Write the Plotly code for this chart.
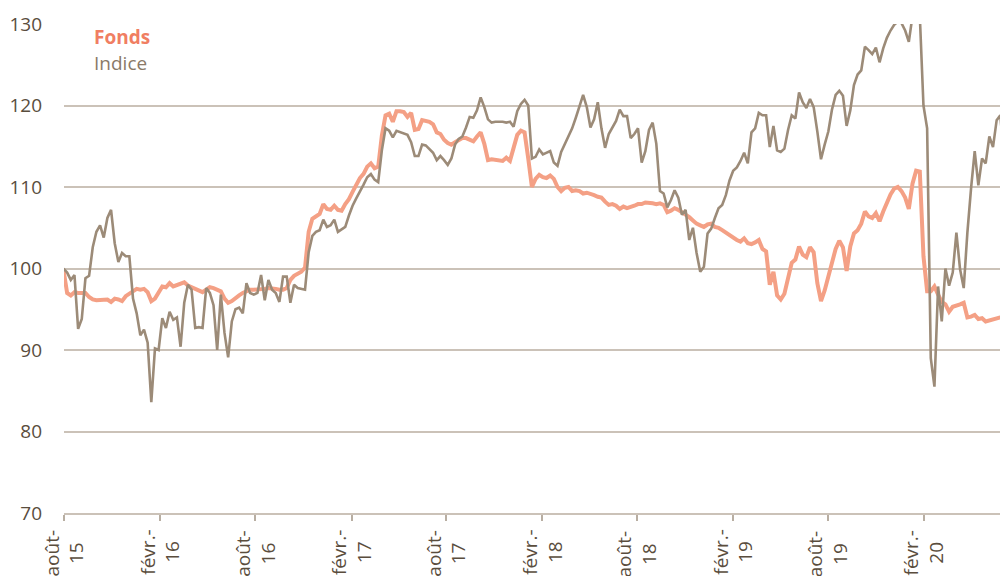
import pandas as pd
import plotly.graph_objects as go

start = "2015-07-31"  # first weekly observation

fonds = [
    99.8, 97.0, 96.7, 97.1, 97.0, 97.0, 97.0, 96.5, 96.2, 96.1,
    96.1, 96.2, 96.2, 95.9, 96.3, 96.2, 96.0, 96.6, 96.9, 97.1,
    97.5, 97.4, 97.5, 97.1, 96.0, 96.3, 97.0, 97.8, 97.7, 98.2,
    97.8, 98.0, 98.2, 98.3, 97.9, 97.7, 97.6, 97.4, 97.1, 97.4,
    97.7, 97.6, 97.4, 97.2, 96.3, 95.8, 96.0, 96.4, 96.7, 97.0,
    97.2, 97.4, 97.4, 97.4, 97.4, 97.5, 97.6, 97.6, 97.5, 97.4,
    97.4, 97.6, 98.6, 99.1, 99.3, 99.6, 100.1, 104.5, 106.1, 106.4,
    106.7, 107.9, 107.3, 107.2, 107.7, 107.2, 107.1, 107.9, 108.5, 109.4,
    110.4, 111.1, 111.6, 112.5, 112.9, 112.3, 112.5, 116.3, 118.8, 119.0,
    118.0, 119.3, 119.3, 119.2, 118.6, 119.1, 117.0, 117.1, 118.2, 118.1,
    118.0, 117.7, 116.7, 116.5, 115.8, 115.4, 115.2, 115.5, 115.8, 116.0,
    116.0, 115.8, 115.6, 116.2, 116.7, 115.3, 113.3, 113.4, 113.3, 113.3,
    113.2, 113.6, 113.2, 114.8, 116.4, 116.9, 116.7, 113.5, 110.0, 111.0,
    111.5, 111.2, 111.1, 111.4, 111.0, 110.0, 109.5, 109.9, 110.0, 109.5,
    109.6, 109.5, 109.2, 109.3, 109.2, 109.0, 108.8, 108.7, 108.2, 107.8,
    107.9, 107.7, 107.3, 107.6, 107.4, 107.5, 107.7, 107.9, 107.9, 108.1,
    108.1, 108.0, 107.9, 108.0, 107.8, 106.9, 107.1, 107.4, 107.2, 106.9,
    106.7, 106.3, 105.9, 105.5, 105.3, 105.1, 105.4, 105.5, 105.1, 105.0,
    104.7, 104.4, 104.1, 103.7, 103.5, 103.3, 103.7, 103.1, 103.0, 103.2,
    103.5, 102.4, 102.1, 98.0, 99.6, 96.7, 96.2, 96.9, 98.8, 100.7,
    101.1, 102.7, 101.7, 101.4, 102.6, 102.0, 98.2, 96.0, 97.3, 98.9,
    100.8, 102.4, 103.4, 102.6, 99.7, 102.7, 104.3, 104.7, 105.5, 107.0,
    106.4, 106.2, 106.8, 105.8, 107.0, 108.1, 109.1, 109.8, 110.0, 109.5,
    108.7, 107.3, 110.4, 112.0, 111.9, 101.5, 97.2, 97.2, 97.8, 96.8,
    95.9, 95.6, 94.7, 95.3, 95.4, 95.6, 95.8, 94.0, 94.1, 94.3,
    93.8, 93.9, 93.5, 93.6, 93.7, 93.8, 94.0, 94.2, 93.9,
]

indice = [
    100.0, 99.5, 98.6, 99.2, 92.6, 93.8, 98.8, 99.1, 102.6, 104.5,
    105.3, 103.8, 106.2, 107.2, 103.1, 100.8, 101.9, 101.5, 101.5, 96.3,
    94.5, 91.8, 92.5, 90.9, 83.6, 90.2, 90.0, 93.9, 92.7, 94.7,
    93.7, 94.0, 90.4, 95.8, 98.0, 97.4, 92.7, 92.8, 92.7, 97.6,
    97.0, 95.5, 90.0, 96.8, 92.1, 89.1, 93.5, 95.0, 95.2, 94.5,
    98.2, 97.0, 96.8, 97.0, 99.2, 96.1, 98.6, 97.4, 97.0, 95.9,
    99.0, 99.0, 95.8, 98.0, 97.6, 97.5, 97.4, 102.0, 104.0, 104.5,
    104.7, 106.0, 105.1, 105.3, 106.0, 104.5, 104.8, 105.1, 106.5, 107.7,
    108.6, 109.4, 110.3, 111.2, 111.6, 110.9, 110.6, 114.5, 117.2, 116.9,
    116.1, 116.9, 116.7, 116.6, 116.4, 115.5, 113.8, 113.8, 115.2, 115.1,
    114.7, 114.2, 113.3, 113.8, 113.3, 112.7, 113.5, 115.2, 115.9, 116.2,
    117.3, 118.6, 118.5, 119.4, 121.0, 119.8, 118.3, 117.9, 118.0, 118.0,
    118.0, 117.9, 118.0, 117.4, 119.3, 120.2, 120.7, 120.0, 113.5, 113.7,
    114.6, 114.0, 114.2, 114.4, 113.0, 112.6, 114.3, 115.3, 116.3, 117.2,
    118.5, 119.8, 121.3, 119.8, 117.3, 118.3, 120.4, 117.2, 114.8, 116.5,
    117.3, 118.1, 119.5, 118.7, 118.7, 116.0, 116.5, 117.2, 113.0, 114.4,
    117.0, 117.9, 115.3, 109.5, 109.2, 107.5, 108.4, 109.6, 108.7, 106.6,
    107.2, 103.5, 105.0, 101.9, 99.6, 100.2, 104.3, 104.9, 106.2, 107.4,
    107.8, 109.0, 110.8, 112.0, 112.4, 113.2, 114.2, 112.9, 116.7, 117.2,
    119.1, 118.8, 118.8, 114.9, 117.5, 114.5, 114.3, 114.7, 117.0, 118.8,
    118.4, 121.6, 120.4, 119.7, 120.8, 119.8, 116.8, 113.4, 115.2, 116.8,
    119.5, 121.3, 121.8, 121.2, 117.5, 119.4, 122.5, 123.8, 124.3, 127.2,
    126.8, 126.3, 127.1, 125.3, 127.0, 128.3, 129.2, 129.9, 130.3, 130.1,
    129.2, 127.8, 131.0, 132.5, 131.0, 120.0, 117.2, 89.0, 85.5, 97.8,
    93.5, 100.0, 97.9, 99.5, 104.4, 99.9, 97.6, 104.4, 109.8, 114.4,
    110.2, 113.5, 112.9, 116.2, 114.9, 118.2, 118.8, 113.7, 115.4,
]

tick_dates = ["2015-08-01", "2016-02-01", "2016-08-01", "2017-02-01", "2017-08-01",
              "2018-02-01", "2018-08-01", "2019-02-01", "2019-08-01", "2020-02-01"]
tick_labels = ["août-<br>15", "févr.-<br>16", "août-<br>16", "févr.-<br>17", "août-<br>17",
               "févr.-<br>18", "août-<br>18", "févr.-<br>19", "août-<br>19", "févr.-<br>20"]

dates = pd.date_range(start, periods=len(fonds), freq="7D")

FONT = "Open Sans"
TXT = "#5A4D3D"
GRID = "#CBC2B8"

fig = go.Figure()
fig.add_trace(go.Scatter(x=dates, y=fonds, mode="lines", name="Fonds",
                         line=dict(color="#F4A085", width=4)))
fig.add_trace(go.Scatter(x=dates, y=indice, mode="lines", name="Indice",
                         line=dict(color="#9C8B78", width=2.6)))

# the page body adds an 8px offset; margins compensate so the plot sits at x=64..., y=24...513
fig.update_layout(
    width=1008, height=576,
    margin=dict(l=56, r=0, t=16, b=71, autoexpand=False),
    paper_bgcolor="white", plot_bgcolor="white",
    showlegend=False,
    font=dict(family=FONT, size=19, color=TXT),
)
fig.update_xaxes(
    type="date", range=["2015-08-01", "2020-07-26"], automargin=False,
    tickvals=tick_dates, showticklabels=False,
    ticks="outside", ticklen=6, tickwidth=1.5, tickcolor="#B8AEA2",
    showgrid=False, zeroline=False,
    showline=True, linecolor=GRID, linewidth=2,
)
fig.update_yaxes(
    range=[70, 130], tick0=70, dtick=10, automargin=False,
    showgrid=True, gridcolor=GRID, gridwidth=2,
    zeroline=False, showline=False, ticks="",
    ticklabelstandoff=21,
    tickfont=dict(family=FONT, size=19, color=TXT),
)

for d, lab in zip(tick_dates, tick_labels):
    fig.add_annotation(x=d, xref="x", y=0, yref="paper", yanchor="top", xanchor="center",
                       yshift=-15, text=lab, textangle=-90, showarrow=False, align="center",
                       font=dict(family=FONT, size=19, color=TXT))

PW = 1008 - 56
fig.add_annotation(x=(92 - 64) / PW, xref="paper", y=(513 - 37) / 489, yref="paper",
                   xanchor="left", yanchor="middle", text="<b>Fonds</b>", showarrow=False,
                   font=dict(family=FONT, size=19, color="#F07E62"))
fig.add_annotation(x=(92 - 64) / PW, xref="paper", y=(513 - 63) / 489, yref="paper",
                   xanchor="left", yanchor="middle", text="Indice", showarrow=False,
                   font=dict(family=FONT, size=19, color="#8A7A68"))

fig.write_html("out.html")
